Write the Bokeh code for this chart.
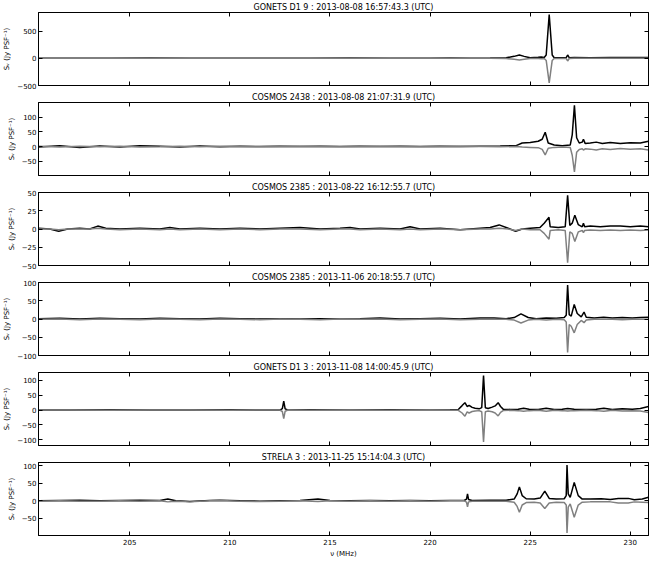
from bokeh.plotting import figure
from bokeh.layouts import column
from bokeh.models import Range1d, LinearAxis, FixedTicker
from bokeh.embed import file_html
from bokeh.resources import INLINE

FONT = "DejaVu Sans"
X_START, X_END = 200.44, 230.91
x_ticks = [205, 210, 215, 220, 225, 230]

titles = [
    "GONETS D1 9 : 2013-08-08 16:57:43.3 (UTC)",
    "COSMOS 2438 : 2013-08-08 21:07:31.9 (UTC)",
    "COSMOS 2385 : 2013-08-22 16:12:55.7 (UTC)",
    "COSMOS 2385 : 2013-11-06 20:18:55.7 (UTC)",
    "GONETS D1 3 : 2013-11-08 14:00:45.9 (UTC)",
    "STRELA 3 : 2013-11-25 15:14:04.3 (UTC)",
]

# Panel 1: GONETS D1 9
f1 = [200.44, 202, 204, 206, 208, 210, 212, 214, 216, 218, 220, 221, 222, 223, 223.8, 224.2, 224.46, 224.7,
      225.0, 225.4, 225.55, 225.7, 225.8, 225.95, 226.1, 226.2, 226.5, 226.8, 226.87, 226.95, 227.2, 228, 229,
      230, 230.91]
b1 = [0, 2, 0, 3, 1, 0, 2, 0, 3, 1, 2, 3, 2, 4, 8, 35, 60, 35, 8, 20, 25, 15, 60, 800, 60, 10, 8, 10, 60, 10,
      12, 10, 12, 14, 16]
g1 = [0, -1, 0, -1, 0, 0, -1, 0, -1, 0, -1, -1, 0, -1, -5, -20, -30, -18, -4, -5, -8, -5, -40, -450, -40, -5,
      -3, -5, -50, -5, 0, -1, 0, 1, 0]

# Panel 2: COSMOS 2438
f2 = [200.44, 201.5, 202.5, 203.5, 204.5, 205.5, 206.5, 207.5, 208.5, 209.5, 210.5, 211.5, 212.5, 213.5,
      214.5, 215.5, 216.5, 217.5, 218.5, 219.5, 220.5, 221.5, 222.5, 223.5, 224.3, 224.6, 225.0, 225.4, 225.6,
      225.75, 225.9, 226.2, 226.6, 227.0, 227.1, 227.21, 227.32, 227.45, 227.6, 227.66, 227.75, 228.0, 228.3,
      228.6, 229.0, 229.5, 230.0, 230.5, 230.91]
b2 = [-2, 3, -3, 2, -2, 3, 1, -2, 2, -1, 1, 0, 1, 0, 1, 0, 1, 0, 1, 0, 1, 0, 1, 2, 3, 12, 14, 18, 25, 49, 12,
      5, 3, 5, 40, 141, 30, 12, 15, 25, 10, 12, 15, 10, 14, 10, 13, 12, 18]
g2 = [1, -2, 1, -1, 1, -2, -1, 1, -1, 1, 0, -1, 0, 1, 0, -1, 0, 1, 0, -1, 0, 1, 0, -1, 0, -2, -3, -4, -10,
      -29, -6, -3, -2, -3, -30, -87, -20, -10, -8, -12, -8, -9, -12, -8, -10, -7, -9, -8, -12]

# Panel 3: COSMOS 2385 (Aug)
f3 = [200.44, 201.0, 201.45, 201.9, 202.5, 203.0, 203.4, 203.8, 204.5, 205.5, 206.5, 207.0, 207.5, 208.5,
      209.5, 210.5, 211.5, 212.5, 213.5, 214.5, 215.5, 216.0, 216.5, 217.5, 218.5, 219.0, 219.5, 220.5, 221.5,
      222.5, 223.0, 223.45, 223.9, 224.27, 224.6, 225.0, 225.49, 225.7, 225.94, 226.0, 226.4, 226.75, 226.87,
      226.98, 227.1, 227.23, 227.4, 227.6, 227.66, 227.72, 228.0, 228.5, 229.0, 229.5, 230.0, 230.5, 230.91]
b3 = [1, 0, -3, 0, 1, 0, 4, 1, 0, 1, 0, 2, 0, 1, 0, 1, 0, 1, 2, 0, 1, 2, 0, 1, 0, 3, 0, 1, -1, 1, 2, 5.6, 1,
      -3, 0, 1, 2, 8, 16, 3, 2, 3, 46, 5, 8, 19, 6, 3, 8, 3, 4, 3, 4, 4, 3, 4, 3]
g3 = [0, 0, -1, 0, 0, 0, 1, 0, -1, 0, -1, 0, -1, 0, -1, 0, -1, 0, 0, -1, 0, 0, -1, 0, -1, 0, -1, 0, -1, 0, 0,
      1, 0, -2, 0, -1, -1, -6, -14, -2, -1, -2, -46, -4, -6, -17, -4, -2, -5, -2, -1.5, -2, -1.5, -2, -1.5,
      -2, -1.5]

# Panel 4: COSMOS 2385 (Nov)
f4 = [200.44, 201.5, 202.5, 203.5, 204.5, 205.5, 206.5, 207.5, 208.5, 209.5, 210.5, 211.5, 212.5, 213.5,
      214.5, 215.5, 216.5, 217.5, 218.5, 219.5, 220.5, 221.5, 222.5, 223.2, 223.8, 224.2, 224.54, 224.9, 225.3,
      225.8, 226.3, 226.7, 226.8, 226.87, 226.95, 227.05, 227.2, 227.35, 227.55, 227.69, 227.8, 228.2, 228.67,
      229.1, 229.6, 230.1, 230.5, 230.91]
b4 = [1, 2, 0, 2, 1, 0, 2, 1, 0, 2, 1, 0, 1, 0, 1, 0, 1, 3, 0, 1, 2, 0, 3, 3, 1, 4, 14, 4, 1, 3, 2, 4, 10, 93,
      12, 8, 40, 15, 6, 19, 5, 3, 5, 3, 4, 3, 4, 5]
g4 = [-1, 0, -2, 0, -1, -2, 0, -1, -2, 0, -1, -2, 0, -1, -2, 0, -1, 0, -2, -1, 0, -2, -1, -1, -1, -3, -11, -3,
      -1, -3, -1, -2, -8, -92, -15, -20, -38, -15, -4, -10, -3, -1, -1, -1, -2, -1, -1, -1]

# Panel 5: GONETS D1 3
f5 = [200.44, 202, 204, 206, 208, 210, 211.5, 212.5, 212.62, 212.69, 212.76, 212.9, 214, 216, 218, 220, 221.0,
      221.41, 221.6, 221.74, 221.85, 221.95, 222.1, 222.25, 222.45, 222.58, 222.67, 222.76, 222.9, 223.1,
      223.25, 223.4, 223.52, 223.65, 224.0, 224.4, 224.67, 224.95, 225.4, 225.8, 226.2, 226.6, 226.87, 227.2,
      227.8, 228.3, 228.68, 229.1, 229.6, 230.1, 230.5, 230.91]
b5 = [0, 0, 1, 0, 0, 1, 0, 0, 5, 30, 4, 0, 1, 0, 1, 0, 1, 2, 15, 25, 12, 16, 9, 6, 4, 8, 117, 8, 5, 10, 14, 25,
      12, 3, 2, 3, 6, 3, 2, 6, 2, 3, 5, 3, 2, 3, 6, 2, 4, 3, 5, 12]
g5 = [0, 0, -1, 0, 0, -1, 0, 0, -5, -29, -4, 0, -1, 0, -1, 0, -1, -1, -10, -21, -6, -10, -5, -3, -2, -6, -108,
      -6, -3, -6, -10, -20, -8, -2, -1, -2, -4, -2, -1, -4, -1, -2, -3, -2, -1, -2, -4, -1, -3, -2, -3, -8]

# Panel 6: STRELA 3
f6 = [200.44, 201.5, 202.5, 203.5, 204.5, 205.5, 206.5, 206.9, 207.3, 208.0, 209.0, 209.5, 210.5, 211.5,
      212.5, 213.5, 214.4, 215.0, 216.0, 217.0, 218.0, 219.0, 220.0, 221.0, 221.7, 221.82, 221.87, 221.92,
      222.1, 223.0, 223.8, 224.2, 224.35, 224.46, 224.6, 224.8, 225.2, 225.5, 225.73, 225.95, 226.3, 226.7,
      226.8, 226.84, 226.9, 227.0, 227.2, 227.4, 227.6, 228.0, 228.55, 229.0, 229.4, 229.9, 230.2, 230.6,
      230.91]
b6 = [0, 1, 2, 0, 1, 2, 1, 5, 0, -2, 1, 2, 0, -1, 0, 1, 5, 1, 0, 1, 0, 1, 0, 1, 1, 5, 20, 4, 1, 2, 2, 5, 20, 40,
      15, 6, 5, 8, 28, 7, 5, 6, 15, 103, 20, 10, 53, 15, 5, 5, 6, 4, 7, 7, 3, 5, 10]
g6 = [-1, 0, -1, -1, 0, -1, 0, -3, -1, -3, 0, 1, -1, -2, -1, 0, -2, 0, -1, 0, -1, 0, -1, 0, 0, -4, -17, -3, -1,
      -1, -1, -4, -16, -33, -12, -5, -4, -6, -22, -6, -4, -5, -12, -92, -18, -9, -47, -12, -4, -3, -3, -3, -6,
      -6, -3, -4, -5]

y_limits = [(-500, 840), (-99.5, 151), (-50, 50), (-100, 100), (-120, 127), (-99.5, 110)]
y_ticks = [[-500, 0, 500], [-50, 0, 50, 100], [-50, -25, 0, 25, 50], [-100, -50, 0, 50, 100],
           [-100, -50, 0, 50, 100], [-50, 0, 50, 100]]

freqs = [f1, f2, f3, f4, f5, f6]
blacks = [b1, b2, b3, b4, b5, b6]
grays = [g1, g2, g3, g4, g5, g6]

FRAME_H = 73
FRAME_W = 610
figs = []
n = len(titles)
for i in range(n):
    last = i == n - 1
    top = 11 if i == 0 else 10
    bottom = 22 if last else 5
    p = figure(frame_width=FRAME_W, frame_height=FRAME_H,
               x_range=Range1d(X_START, X_END), y_range=Range1d(*y_limits[i]),
               output_backend="svg", toolbar_location=None,
               min_border_left=36, min_border_right=10,
               min_border_top=top, min_border_bottom=bottom,
               background_fill_color="white", border_fill_color="white",
               outline_line_color="black", outline_line_width=1)
    p.title.text = titles[i]
    p.title.align = "center"
    p.title.text_font = FONT
    p.title.text_font_size = "8px"
    p.title.text_font_style = "normal"
    p.title.text_color = "black"
    p.title.standoff = 1
    p.title.offset = 0
    p.grid.visible = False

    p.xaxis.ticker = FixedTicker(ticks=x_ticks)
    p.yaxis.ticker = FixedTicker(ticks=y_ticks[i])

    for ax in p.xaxis + p.yaxis:
        ax.major_tick_in = 4
        ax.major_tick_out = 0
        ax.minor_tick_line_color = None
        ax.axis_line_color = "black"
        ax.major_tick_line_color = "black"
        ax.major_label_text_font = FONT
        ax.major_label_text_font_size = "7px"
        ax.major_label_text_color = "black"
        ax.axis_label_text_font = FONT
        ax.axis_label_text_font_style = "normal"
        ax.axis_label_text_color = "black"

    p.yaxis.major_label_overrides = {t: str(t).replace("-", "\u2212") for t in y_ticks[i]}
    p.yaxis.major_label_standoff = 2
    p.yaxis.axis_label = "S\u1d65 (Jy PSF\u207b\u00b9)"
    p.yaxis.axis_label_text_font_size = "7px"
    p.yaxis.axis_label_standoff = 3

    if last:
        p.xaxis.major_label_standoff = 3
        p.xaxis.axis_label = "\u03bd (MHz)"
        p.xaxis.axis_label_text_font_size = "7px"
        p.xaxis.axis_label_standoff = 2
    else:
        p.xaxis.major_label_overrides = {t: "" for t in x_ticks}
        p.xaxis.major_label_standoff = 0

    top_ax = LinearAxis(ticker=FixedTicker(ticks=x_ticks), major_tick_in=4, major_tick_out=0,
                        minor_tick_line_color=None, axis_line_color="black",
                        major_label_overrides={t: "" for t in x_ticks}, major_label_standoff=0)
    right_ax = LinearAxis(ticker=FixedTicker(ticks=y_ticks[i]), major_tick_in=4, major_tick_out=0,
                          minor_tick_line_color=None, axis_line_color="black",
                          major_label_overrides={t: "" for t in y_ticks[i]}, major_label_standoff=0)
    p.add_layout(top_ax, "above")
    p.add_layout(right_ax, "right")

    p.line(freqs[i], blacks[i], line_color="black", line_width=1.5)
    p.line(freqs[i], grays[i], line_color="#808080", line_width=1.5)
    figs.append(p)

layout = column(*figs, spacing=0)
open("out.html", "w").write(file_html(layout, INLINE))
